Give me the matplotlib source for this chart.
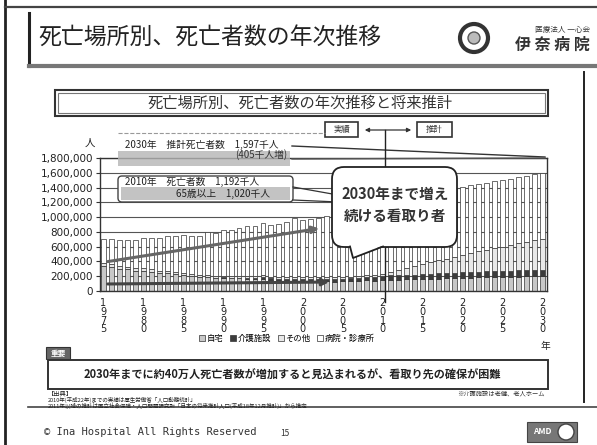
import numpy as np
import matplotlib.pyplot as plt
from matplotlib.patches import Rectangle, FancyBboxPatch, Polygon, Circle

plt.rcParams['font.family'] = ['Noto Sans CJK JP', 'DejaVu Sans']

years = np.arange(1975, 2031)
home = [335, 322, 303, 292, 276, 275, 262, 245, 240, 228,
        213, 203, 190, 190, 178, 178, 172, 170, 169, 163,
        169, 155, 150, 147, 146, 134, 131, 130, 134, 127,
        132, 133, 136, 145, 141, 150, 152, 154, 157, 160,
        163, 166, 169, 172, 175, 178, 181, 184, 186, 189,
        191, 193, 195, 197, 199, 200]
care = [0, 0, 0, 0, 0, 0, 0, 0, 0, 0,
        0, 0, 0, 0, 0, 8, 9, 10, 11, 13,
        14, 15, 17, 19, 21, 23, 25, 27, 30, 32,
        35, 38, 42, 47, 52, 57, 59, 60, 62, 63,
        65, 67, 68, 70, 71, 73, 75, 76, 78, 80,
        81, 83, 85, 86, 88, 90]
other = [40, 38, 37, 36, 35, 35, 34, 32, 31, 30,
         28, 27, 26, 25, 24, 22, 22, 23, 23, 24,
         28, 26, 26, 26, 27, 27, 27, 26, 26, 26,
         24, 25, 26, 27, 27, 29, 47, 69, 90, 112,
         133, 155, 177, 196, 218, 239, 257, 276, 294, 310,
         328, 346, 364, 382, 399, 417]
hospital = [327, 343, 350, 368, 379, 413, 424, 435, 469, 482,
            511, 521, 535, 578, 587, 612, 627, 654, 676, 676,
            711, 700, 720, 744, 788, 778, 787, 799, 825, 844,
            893, 888, 904, 923, 922, 956, 955, 952, 948, 944,
            940, 935, 931, 928, 924, 920, 916, 912, 909, 906,
            903, 900, 897, 895, 892, 890]
series_names = ['自宅', '介護施設', 'その他', '病院・診療所']
series_colors = ['#c8c8c8', '#3c3c3c', '#e8e8e8', '#ffffff']
tick_years = [1975, 1980, 1985, 1990, 1995, 2000, 2005, 2010, 2015, 2020, 2025, 2030]

W, H = 597, 445
fig = plt.figure(figsize=(W / 100, H / 100), dpi=100)

# slide frame (pixel coordinates)
bg = fig.add_axes([0, 0, 1, 1])
bg.set_xlim(0, W)
bg.set_ylim(H, 0)
bg.axis('off')
bg.plot([5, 5], [0, H], color='#222', lw=2)
bg.plot([5, W], [7, 7], color='#444', lw=1.6)
bg.plot([29, 29], [13, 66], color='#222', lw=2.2)
bg.plot([29, W], [66, 66], color='#777', lw=3)
bg.plot([584, 584], [72, 402], color='#222', lw=1.4)
bg.plot([28, W], [407, 407], color='#444', lw=1.2)
bg.text(38, 37, '死亡場所別、死亡者数の年次推移', fontsize=16.5, va='center', color='#222')

# hospital logo
bg.add_patch(Circle((474, 38), 14, facecolor='white', edgecolor='#333', lw=3))
bg.add_patch(Circle((474, 38), 6, facecolor='#bbb', edgecolor='#555', lw=1))
bg.text(590, 30, '医療法人 一心会', fontsize=5.5, ha='right', va='center', color='#333')
bg.text(590, 45, '伊 奈 病 院', fontsize=11.5, ha='right', va='center', color='#333',
        fontweight='bold')

# chart title box
bg.add_patch(Rectangle((55, 90), 493, 26, facecolor='white', edgecolor='#333', lw=1.5))
bg.add_patch(Rectangle((58, 93), 487, 20, facecolor='none', edgecolor='#777', lw=0.8))
bg.text(300, 103, '死亡場所別、死亡者数の年次推移と将来推計', fontsize=11, ha='center',
        va='center', color='#333')
bg.text(90, 143, '人', fontsize=7.5, ha='center', va='center', color='#222')

# bars
ax = fig.add_axes([100 / W, 1 - 291 / H, 447 / W, 133 / H])
bottom = np.zeros(len(years))
handles = []
for vals, name, col in zip([home, care, other, hospital], series_names, series_colors):
    v = np.array(vals) * 1000
    b = ax.bar(years, v, 0.62, bottom=bottom, color=col, edgecolor='#333',
               linewidth=0.5, zorder=2, label=name)
    handles.append(b)
    bottom += v
ax.set_xlim(1974.6, 2030.55)
ax.set_ylim(0, 1800000)
ax.set_yticks(range(0, 1800001, 200000))
ax.set_yticklabels(['{:,}'.format(t) for t in range(0, 1800001, 200000)],
                   fontsize=7.5, family='DejaVu Sans', color='#222')
ax.set_xticks(tick_years)
ax.set_xticklabels(['\n'.join(str(y)) for y in tick_years], fontsize=7,
                   family='DejaVu Sans', linespacing=0.85, color='#222')
ax.tick_params(axis='x', length=0, pad=5)
ax.tick_params(axis='y', length=3, pad=2, color='#333')
ax.yaxis.grid(True, color='#555', lw=0.8)
ax.set_axisbelow(True)
for s in ax.spines.values():
    s.set_color('#333')
    s.set_linewidth(1)

fig.legend(handles, series_names, loc='center', bbox_to_anchor=(287 / W, 1 - 338 / H),
           ncol=4, frameon=False, fontsize=6, handlelength=0.7, handleheight=0.7,
           handletextpad=0.2, columnspacing=0.8)

# annotations over the chart
ov = fig.add_axes([0, 0, 1, 1], facecolor='none')
ov.set_xlim(0, W)
ov.set_ylim(H, 0)
ov.axis('off')
ov.text(545, 346, '年', fontsize=7, ha='center', va='center', color='#222')

# 2030 box
ov.plot([118, 325], [133, 133], color='#999', lw=0.8, ls='--')
ov.add_patch(Rectangle((118, 151), 172, 15, facecolor='#b5b5b5', edgecolor='none', alpha=0.8))
ov.text(125, 145, '2030年　推計死亡者数　1,597千人', fontsize=7, va='center', color='#222')
ov.text(287, 155, '(405千人増)', fontsize=7, ha='right', va='center', color='#333')
ov.plot([292, 545], [146, 157], color='#333', lw=1)
ov.plot([292, 545], [159, 158], color='#555', lw=1)

# 2010 box
ov.add_patch(FancyBboxPatch((118, 176), 175, 26, boxstyle='round,pad=0,rounding_size=4',
                            facecolor='white', edgecolor='#444', lw=1))
ov.add_patch(Rectangle((121, 187), 169, 13, facecolor='#b5b5b5', edgecolor='none', alpha=0.8))
ov.text(125, 182, '2010年　死亡者数　1,192千人', fontsize=7, va='center', color='#222')
ov.text(270, 194, '65歳以上　1,020千人', fontsize=7, ha='right', va='center', color='#222')
ov.plot([293, 383], [187, 203], color='#333', lw=0.9)
ov.plot([293, 383], [200, 204], color='#333', lw=0.9)

# trend arrows
ov.annotate('', xy=(322, 228), xytext=(105, 262),
            arrowprops=dict(arrowstyle='-|>', color='#666', lw=2.2, mutation_scale=10))
ov.annotate('', xy=(332, 282), xytext=(105, 284),
            arrowprops=dict(arrowstyle='-|>', color='#444', lw=2.2, mutation_scale=10))

# actual / projection marker
ov.plot([385, 385], [130, 302], color='#222', lw=1)
ov.add_patch(Rectangle((325, 122), 33, 15, facecolor='white', edgecolor='#333', lw=1.2))
ov.text(341.5, 129.5, '実績', fontsize=6, ha='center', va='center', color='#333')
ov.add_patch(Rectangle((417, 122), 35, 15, facecolor='white', edgecolor='#333', lw=1.2))
ov.text(434.5, 129.5, '推計', fontsize=6, ha='center', va='center', color='#333')
ov.annotate('', xy=(362, 130), xytext=(414, 130),
            arrowprops=dict(arrowstyle='<|-|>', color='#333', lw=0.9, mutation_scale=6))

# speech bubble
ov.add_patch(FancyBboxPatch((332, 167), 125, 80, boxstyle='round,pad=0,rounding_size=12',
                            facecolor='white', edgecolor='#222', lw=1.3, zorder=5))
ov.add_patch(Polygon([(350, 245.5), (353, 258), (383, 245.5)], closed=True,
                     facecolor='white', edgecolor='none', zorder=6))
ov.plot([350, 353, 383], [246.5, 258, 246.5], color='#222', lw=1.3, zorder=6)
ov.text(395, 205, '2030年まで増え\n続ける看取り者', fontsize=10.5, ha='center', va='center',
        fontweight='bold', color='#333', linespacing=1.4, zorder=7)

# bottom message box
ov.add_patch(Rectangle((46, 347), 24, 12, facecolor='#666', edgecolor='#333', lw=0.8))
ov.text(58, 353, '重要', fontsize=5.5, ha='center', va='center', color='white', fontweight='bold')
ov.add_patch(Rectangle((48, 360), 500, 29, facecolor='white', edgecolor='#333', lw=1.4))
ov.text(292, 375, '2030年までに約40万人死亡者数が増加すると見込まれるが、看取り先の確保が困難',
        fontsize=8, ha='center', va='center', fontweight='bold', color='#222')
ov.text(545, 394, '※介護施設は老健、老人ホーム', fontsize=4.5, ha='right', va='center', color='#333')
ov.text(48, 394, '【出典】', fontsize=4.5, va='center', color='#222')
ov.text(48, 400, '2010年(平成22年)までの実績は厚生労働省「人口動態統計」',
        fontsize=4, va='center', color='#222')
ov.text(48, 406, '2011年以降の推計は国立社会保障・人口問題研究所「日本の将来推計人口(平成18年12月推計)」から推定',
        fontsize=4, va='center', color='#222')

# footer
ov.text(44, 432, '© Ina Hospital All Rights Reserved', fontsize=7.5, va='center',
        family='DejaVu Sans Mono', color='#333')
ov.text(285, 433, '15', fontsize=6, ha='center', va='center', color='#333')
ov.add_patch(Rectangle((527, 422), 50, 20, facecolor='#777', edgecolor='#444', lw=0.8))
ov.text(542, 432, 'AMD', fontsize=6, ha='center', va='center', color='white', fontweight='bold')
ov.add_patch(Circle((566, 432), 8, facecolor='white', edgecolor='#444', lw=1))

fig.savefig('out.png', dpi=100)
